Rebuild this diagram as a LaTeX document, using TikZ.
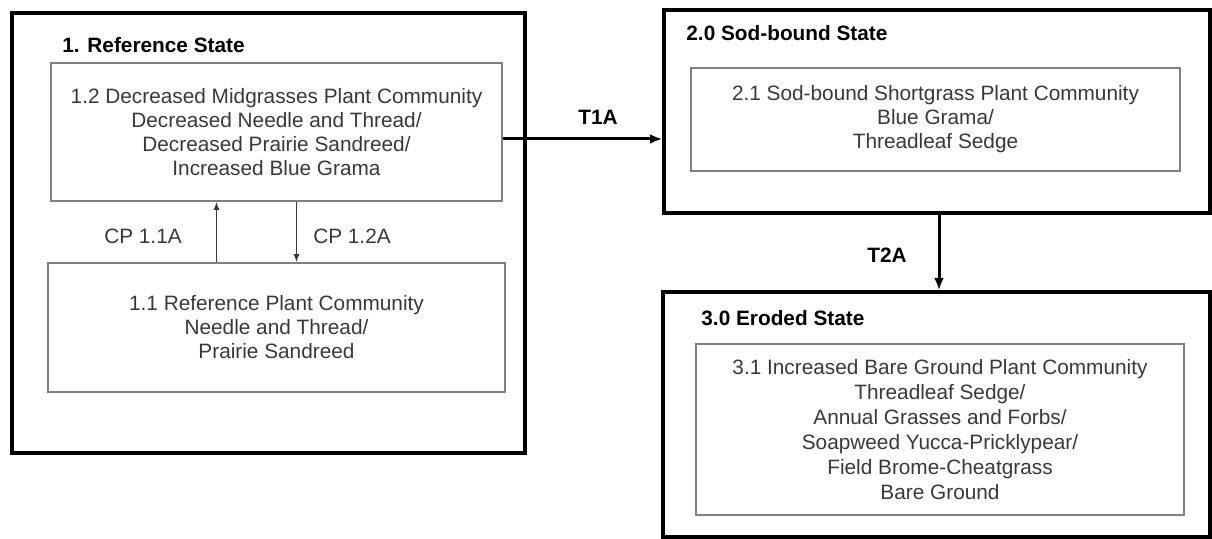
\documentclass[tikz,border=0pt]{standalone}
\usepackage{fontspec}
\setmainfont{Liberation Sans}
\usetikzlibrary{arrows.meta}
\definecolor{boxgray}{gray}{0.5}
\definecolor{textgray}{gray}{0.22}
\begin{document}
\begin{tikzpicture}[x=0.5pt, y=-0.5pt]
    \tikzstyle{statebox} = [draw=black, line width=2pt, inner sep=0pt]
    \tikzstyle{community} = [draw=boxgray, line width=0.8pt, inner sep=2pt, align=center,
      text=textgray, font=\fontsize{10.4}{12}\selectfont]
    \tikzstyle{title} = [anchor=west, inner sep=0pt, font=\fontsize{10.4}{12}\selectfont\bfseries]
    \tikzstyle{trans} = [line width=1.5pt, -{Latex[length=6pt, width=5pt]}]
    \tikzstyle{pathway} = [draw=textgray, line width=0.6pt, -{Latex[length=4pt, width=3pt]}]
    \tikzstyle{translabel} = [font=\fontsize{10.4}{12}\selectfont\bfseries]
    \tikzstyle{cplabel} = [text=textgray, font=\fontsize{10.4}{12}\selectfont]
    \useasboundingbox (0,0) rectangle (1212,539);
    \node[statebox, minimum width=256.5pt, minimum height=220pt] (ref) at (268.5,233) {};
    \node[statebox, minimum width=273pt, minimum height=101.5pt] (sod) at (937,111.5) {};
    \node[statebox, minimum width=273.5pt, minimum height=122.5pt] (eroded) at (936.5,414.5) {};
    \node[title] (reftitle) at (62,45) {1. Reference State};
    \node[title] (sodtitle) at (686,33) {2.0 Sod-bound State};
    \node[title] (erodedtitle) at (701,318) {3.0 Eroded State};
    \node[community, minimum width=225.5pt, minimum height=69pt] (pc12) at (276.5,132)
      {1.2 Decreased Midgrasses Plant Community\\
       Decreased Needle and Thread/\\
       Decreased Prairie Sandreed/\\
       Increased Blue Grama};
    \node[community, minimum width=228.5pt, minimum height=64.5pt] (pc11) at (276.5,327.5)
      {1.1 Reference Plant Community\\
       Needle and Thread/\\
       Prairie Sandreed};
    \node[community, minimum width=244.5pt, minimum height=51.5pt] (pc21) at (935.5,119.5)
      {2.1 Sod-bound Shortgrass Plant Community\\
       Blue Grama/\\
       Threadleaf Sedge};
    \node[community, minimum width=244pt, minimum height=85.5pt, font=\fontsize{10.4}{12.5}\selectfont] (pc31) at (940,429.5)
      {3.1 Increased Bare Ground Plant Community\\
       Threadleaf Sedge/\\
       Annual Grasses and Forbs/\\
       Soapweed Yucca-Pricklypear/\\
       Field Brome-Cheatgrass\\
       Bare Ground};
    \draw[trans] ([yshift=-3.5pt]pc12.east) -- ([yshift=-3.5pt]pc12.east -| sod.west);
    \draw[trans] ([xshift=1pt]sod.south) -- ([xshift=1pt]sod.south |- eroded.north);
    \draw[pathway] ([xshift=-30pt]pc11.north) -- ([xshift=-30pt]pc11.north |- pc12.south);
    \draw[pathway] ([xshift=10pt]pc12.south) -- ([xshift=10pt]pc12.south |- pc11.north);
    \node[translabel] (t1a) at (598,117) {T1A};
    \node[translabel] (t2a) at (887,255) {T2A};
    \node[cplabel] (cp11a) at (143,236) {CP 1.1A};
    \node[cplabel] (cp12a) at (352,236) {CP 1.2A};
\end{tikzpicture}
\end{document}
